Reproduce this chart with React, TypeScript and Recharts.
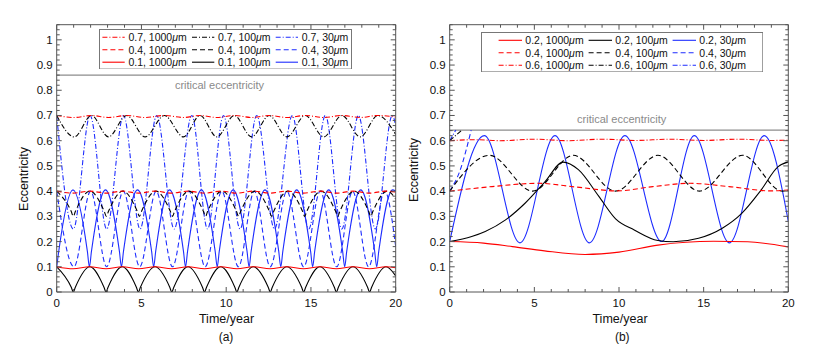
import React from 'react';
import { LineChart, Line, XAxis, YAxis, ReferenceLine } from 'recharts';

// ---- panel (a): [time in years, eccentricity] ----
const a07_1000 = [[0, 0.7], [1.04, 0.692], [2.05, 0.7], [3.05, 0.692], [4.13, 0.7], [5.22, 0.692], [6.35, 0.7], [7.48, 0.692], [8.46, 0.7], [9.45, 0.692], [10.48, 0.7], [11.5, 0.692], [12.54, 0.7], [13.58, 0.692], [14.67, 0.7], [15.75, 0.692], [16.83, 0.7], [17.91, 0.692], [18.95, 0.7], [20, 0.694]];
const a07_100 = [[0, 0.7], [1.04, 0.615], [2.05, 0.7], [3.05, 0.615], [4.13, 0.7], [5.22, 0.615], [6.35, 0.7], [7.48, 0.615], [8.46, 0.7], [9.45, 0.615], [10.48, 0.7], [11.5, 0.615], [12.54, 0.7], [13.58, 0.615], [14.67, 0.7], [15.75, 0.615], [16.83, 0.7], [17.91, 0.615], [18.95, 0.7], [20, 0.625]];
const a07_30 = [[0, 0.7], [0.98, 0.25], [1.97, 0.7], [2.95, 0.25], [3.94, 0.7], [4.92, 0.25], [5.9, 0.7], [6.93, 0.25], [7.97, 0.7], [8.9, 0.25], [9.84, 0.7], [10.82, 0.25], [11.8, 0.7], [12.85, 0.25], [13.9, 0.7], [14.87, 0.25], [15.85, 0.7], [16.82, 0.25], [17.8, 0.7], [18.8, 0.25], [19.8, 0.7], [20, 0.66]];
const a04_1000 = [[0, 0.4], [0.97, 0.392], [1.95, 0.4], [2.91, 0.392], [3.87, 0.4], [4.84, 0.392], [5.8, 0.4], [6.78, 0.392], [7.75, 0.4], [8.72, 0.392], [9.68, 0.4], [10.64, 0.392], [11.6, 0.4], [12.59, 0.392], [13.58, 0.4], [14.56, 0.392], [15.53, 0.4], [16.5, 0.392], [17.48, 0.4], [18.46, 0.392], [19.43, 0.4], [20, 0.396]];
const a04_100 = [[0, 0.4], [0.86, 0.319], [0.98, 0.3], [1.1, 0.319], [1.95, 0.4], [2.81, 0.319], [2.93, 0.3], [3.05, 0.319], [3.9, 0.4], [4.76, 0.319], [4.88, 0.3], [5.0, 0.319], [5.85, 0.4], [6.71, 0.319], [6.83, 0.3], [6.95, 0.319], [7.8, 0.4], [8.66, 0.319], [8.78, 0.3], [8.9, 0.319], [9.75, 0.4], [10.61, 0.319], [10.73, 0.3], [10.85, 0.319], [11.7, 0.4], [12.56, 0.319], [12.68, 0.3], [12.8, 0.319], [13.65, 0.4], [14.51, 0.319], [14.63, 0.3], [14.75, 0.319], [15.6, 0.4], [16.46, 0.319], [16.58, 0.3], [16.7, 0.319], [17.55, 0.4], [18.41, 0.319], [18.53, 0.3], [18.65, 0.319], [19.5, 0.4], [20, 0.369]];
const a04_30 = [[0, 0.4], [1.02, 0.1], [2.0, 0.4], [2.95, 0.1], [3.93, 0.4], [4.9, 0.1], [5.87, 0.4], [6.83, 0.1], [7.8, 0.4], [8.76, 0.1], [9.74, 0.4], [10.72, 0.1], [11.66, 0.4], [12.6, 0.1], [13.58, 0.4], [14.57, 0.1], [15.55, 0.4], [16.52, 0.1], [17.46, 0.4], [18.4, 0.1], [19.35, 0.4], [20, 0.18]];
const a01_1000 = [[0, 0.1], [0.97, 0.092], [1.95, 0.1], [2.91, 0.092], [3.87, 0.1], [4.84, 0.092], [5.8, 0.1], [6.78, 0.092], [7.75, 0.1], [8.72, 0.092], [9.68, 0.1], [10.64, 0.092], [11.6, 0.1], [12.59, 0.092], [13.58, 0.1], [14.56, 0.092], [15.53, 0.1], [16.5, 0.092], [17.48, 0.1], [18.46, 0.092], [19.43, 0.1], [20, 0.096]];
const a01_100 = [[0, 0.1], [0.86, 0.019], [0.98, 0], [1.1, 0.019], [1.95, 0.1], [2.79, 0.019], [2.91, 0], [3.03, 0.019], [3.87, 0.1], [4.7, 0.019], [4.82, 0], [4.94, 0.019], [5.8, 0.1], [6.67, 0.019], [6.79, 0], [6.91, 0.019], [7.75, 0.1], [8.6, 0.019], [8.72, 0], [8.84, 0.019], [9.68, 0.1], [10.51, 0.019], [10.63, 0], [10.75, 0.019], [11.6, 0.1], [12.48, 0.019], [12.6, 0], [12.72, 0.019], [13.58, 0.1], [14.45, 0.019], [14.57, 0], [14.69, 0.019], [15.53, 0.1], [16.38, 0.019], [16.5, 0], [16.62, 0.019], [17.48, 0.1], [18.34, 0.019], [18.46, 0], [18.58, 0.019], [19.43, 0.1], [20, 0.064]];
const a01_30 = [[0, 0.1], [0.12, 0.161], [0.96, 0.405], [1.81, 0.161], [1.93, 0.1], [2.05, 0.161], [2.88, 0.405], [3.7, 0.161], [3.82, 0.1], [3.94, 0.161], [4.77, 0.405], [5.6, 0.161], [5.72, 0.1], [5.84, 0.161], [6.66, 0.405], [7.48, 0.161], [7.6, 0.1], [7.72, 0.161], [8.54, 0.405], [9.35, 0.161], [9.47, 0.1], [9.59, 0.161], [10.41, 0.405], [11.23, 0.161], [11.35, 0.1], [11.47, 0.161], [12.29, 0.405], [13.1, 0.161], [13.22, 0.1], [13.34, 0.161], [14.16, 0.405], [14.98, 0.161], [15.1, 0.1], [15.22, 0.161], [16.05, 0.405], [16.87, 0.161], [16.99, 0.1], [17.11, 0.161], [17.94, 0.405], [18.76, 0.161], [18.88, 0.1], [19.0, 0.161], [19.82, 0.405], [20, 0.4]];

// ---- panel (b) ----
const b02_1000 = [[0, 0.2], [2, 0.194], [3.7, 0.18], [5.6, 0.163], [8, 0.149], [10, 0.158], [12.3, 0.186], [15.6, 0.201], [17.6, 0.199], [20, 0.179]];
const b02_100 = [[0, 0.2], [1.3, 0.22], [2.1, 0.24], [3.3, 0.286], [4.45, 0.352], [5.6, 0.435], [6.7, 0.515], [7.6, 0.485], [8.8, 0.38], [9.8, 0.29], [10.9, 0.246], [12.3, 0.204], [13.2, 0.199], [14.7, 0.213], [16.1, 0.253], [17.25, 0.312], [18.4, 0.405], [19.4, 0.497], [20, 0.516]];
const b02_30 = [[0, 0.2], [2.05, 0.62], [4.15, 0.195], [6.22, 0.62], [8.25, 0.195], [10.35, 0.62], [12.52, 0.2], [14.45, 0.62], [16.52, 0.195], [18.58, 0.62], [20, 0.28]];
const b04_1000 = [[0, 0.4], [2.5, 0.418], [5.2, 0.431], [7.5, 0.416], [9.9, 0.401], [12, 0.418], [14.2, 0.431], [16.5, 0.418], [19, 0.401], [20, 0.405]];
const b04_100 = [[0, 0.4], [2.35, 0.542], [4.9, 0.4], [7.3, 0.542], [9.8, 0.4], [12.3, 0.542], [14.75, 0.4], [17.3, 0.542], [19.65, 0.4], [20, 0.403]];
const b04_30 = [[0, 0.4], [0.6, 0.48], [1.27, 0.642]];
const b06_1000 = [[0, 0.6], [1.5, 0.604], [3, 0.6], [5, 0.606], [7, 0.6], [9, 0.606], [11, 0.601], [13, 0.606], [15, 0.601], [17, 0.606], [19, 0.601], [20, 0.602]];
const b06_100 = [[0, 0.6], [0.72, 0.642]];
const b06_30 = [[0, 0.6], [0.36, 0.642]];

const xTicks = [0, 1, 2, 3, 4, 5, 6, 7, 8, 9, 10, 11, 12, 13, 14, 15, 16, 17, 18, 19, 20];
const yTicks = Array.from({ length: 54 }, (_, i) => +(i * 0.02).toFixed(2));
const critA = 0.86;
const critB = 0.642;

const FONT = '"Liberation Sans", Arial, Helvetica, sans-serif';
const FRAME = '#555';
const RED = '#ff0000';
const BLACK = '#000000';
const BLUE = '#1e2dff';
const DASHED = '5 3';
const DASHDOT = '5 2 1 2';

type Series = { e0: string; size: string; pts: number[][]; color: string; dash?: string };

// legend rows, as laid out in each box
const legendA: Series[][] = [
  [
    { e0: '0.7', size: '1000', pts: a07_1000, color: RED, dash: DASHDOT },
    { e0: '0.7', size: '100', pts: a07_100, color: BLACK, dash: DASHDOT },
    { e0: '0.7', size: '30', pts: a07_30, color: BLUE, dash: DASHDOT },
  ],
  [
    { e0: '0.4', size: '1000', pts: a04_1000, color: RED, dash: DASHED },
    { e0: '0.4', size: '100', pts: a04_100, color: BLACK, dash: DASHED },
    { e0: '0.4', size: '30', pts: a04_30, color: BLUE, dash: DASHED },
  ],
  [
    { e0: '0.1', size: '1000', pts: a01_1000, color: RED },
    { e0: '0.1', size: '100', pts: a01_100, color: BLACK },
    { e0: '0.1', size: '30', pts: a01_30, color: BLUE },
  ],
];

const legendB: Series[][] = [
  [
    { e0: '0.2', size: '1000', pts: b02_1000, color: RED },
    { e0: '0.2', size: '100', pts: b02_100, color: BLACK },
    { e0: '0.2', size: '30', pts: b02_30, color: BLUE },
  ],
  [
    { e0: '0.4', size: '1000', pts: b04_1000, color: RED, dash: DASHED },
    { e0: '0.4', size: '100', pts: b04_100, color: BLACK, dash: DASHED },
    { e0: '0.4', size: '30', pts: b04_30, color: BLUE, dash: DASHED },
  ],
  [
    { e0: '0.6', size: '1000', pts: b06_1000, color: RED, dash: DASHDOT },
    { e0: '0.6', size: '100', pts: b06_100, color: BLACK, dash: DASHDOT },
    { e0: '0.6', size: '30', pts: b06_30, color: BLUE, dash: DASHDOT },
  ],
];

const isMajorY = (v: number) => Math.abs(v * 10 - Math.round(v * 10)) < 1e-6 && v <= 1;

function Tick(props: any) {
  const { x, y, payload, side } = props;
  const v = payload.value;
  if (side === 'bottom' || side === 'top') {
    const major = v % 5 === 0;
    const len = major ? 5 : 3;
    const y2 = side === 'bottom' ? y - len : y + len;
    return (
      <g>
        <line x1={x} x2={x} y1={y} y2={y2} stroke={FRAME} />
        {side === 'bottom' && major && (
          <text x={x} y={y + 15} textAnchor="middle" fontSize={11.5} fontFamily={FONT} fill="#111">
            {v}
          </text>
        )}
      </g>
    );
  }
  const major = isMajorY(v);
  const len = major ? 5 : 3;
  const x2 = side === 'left' ? x + len : x - len;
  return (
    <g>
      <line x1={x} x2={x2} y1={y} y2={y} stroke={FRAME} />
      {side === 'left' && major && (
        <text x={x - 4} y={y + 4} textAnchor="end" fontSize={11.5} fontFamily={FONT} fill="#111">
          {String(+v.toFixed(1))}
        </text>
      )}
    </g>
  );
}

function CritLabel(props: any) {
  const { viewBox, offX, offY } = props;
  return (
    <text
      x={viewBox.x + viewBox.width / 2 + offX}
      y={viewBox.y + offY}
      textAnchor="middle"
      fontSize={11}
      fontFamily={FONT}
      fill="#8a8a8a"
    >
      critical eccentricity
    </text>
  );
}

// axes get 1px of room (a 0px axis is not drawn), margins make up for it
function Panel({ rows, crit, offX, offY, margin }: any) {
  const all: Series[] = rows.flat();
  // blue underneath, then black, red on top
  const order = [BLUE, BLACK, RED].flatMap((c) => all.filter((s) => s.color === c));
  return (
    <LineChart width={415} height={348} margin={margin}>
      <XAxis xAxisId="bot" type="number" dataKey="t" domain={[0, 20]} ticks={xTicks} interval={0}
        height={1} tickSize={0} tickMargin={0} tickLine={false} axisLine={{ stroke: FRAME }}
        tick={<Tick side="bottom" />} allowDataOverflow />
      <XAxis xAxisId="top" orientation="top" type="number" dataKey="t" domain={[0, 20]} ticks={xTicks} interval={0}
        height={1} tickSize={0} tickMargin={0} tickLine={false} axisLine={{ stroke: FRAME }}
        tick={<Tick side="top" />} allowDataOverflow />
      <YAxis yAxisId="left" type="number" domain={[0, 1.06]} ticks={yTicks} interval={0}
        width={1} tickSize={0} tickMargin={0} tickLine={false} axisLine={{ stroke: FRAME }}
        tick={<Tick side="left" />} allowDataOverflow />
      <YAxis yAxisId="right" orientation="right" type="number" domain={[0, 1.06]} ticks={yTicks} interval={0}
        width={1} tickSize={0} tickMargin={0} tickLine={false} axisLine={{ stroke: FRAME }}
        tick={<Tick side="right" />} allowDataOverflow />
      <ReferenceLine xAxisId="bot" yAxisId="left" y={crit} stroke="#8c8c8c" strokeWidth={1.2}
        label={<CritLabel offX={offX} offY={offY} />} />
      {order.map((s) => (
        <Line
          key={s.e0 + s.size}
          xAxisId="bot"
          yAxisId="left"
          data={s.pts.map(([t, e]) => ({ t, e }))}
          dataKey="e"
          type="monotone"
          dot={false}
          stroke={s.color}
          strokeWidth={1.1}
          strokeDasharray={s.dash}
          isAnimationActive={false}
        />
      ))}
    </LineChart>
  );
}

function LegendBox({ rows, left, top, width, height, rowY, colX, lineLen, textGap }: any) {
  return (
    <svg style={{ position: 'absolute', left, top }} width={width + 1} height={height + 1}>
      <rect x={0.5} y={0.5} width={width} height={height} fill="#fff" stroke="#777" />
      {rows.map((row: Series[], r: number) =>
        row.map((s: Series, c: number) => (
          <g key={r + '-' + c}>
            <line x1={colX[c]} x2={colX[c] + lineLen} y1={rowY[r]} y2={rowY[r]} stroke={s.color}
              strokeWidth={1.1} strokeDasharray={s.dash} />
            <text x={colX[c] + textGap} y={rowY[r] + 3.8} fontSize={10.5} fontFamily={FONT} fill="#111">
              {s.e0}, {s.size}
              <tspan fontStyle="italic">μ</tspan>m
            </text>
          </g>
        ))
      )}
    </svg>
  );
}

export default function App() {
  return (
    <div style={{ position: 'absolute', left: 0, top: 0, width: 830, height: 348, background: '#fff' }}>
      <div style={{ position: 'absolute', left: 0, top: 0 }}>
        <Panel rows={legendA} crit={critA} offX={-6.7} offY={13.7}
          margin={{ top: 23.7, right: 18.3, bottom: 55, left: 55.7 }} />
      </div>
      <div style={{ position: 'absolute', left: 415, top: 0 }}>
        <Panel rows={legendB} crit={critB} offX={2.7} offY={-7.3}
          margin={{ top: 23.7, right: 40.7, bottom: 55, left: 33.7 }} />
      </div>
      <LegendBox rows={legendA} left={99} top={28.5} width={252} height={39.6}
        rowY={[8.2, 20.8, 33.2]} colX={[3.4, 93, 176.7]} lineLen={22.3} textGap={26} />
      <LegendBox rows={legendB} left={480.5} top={32} width={281.3} height={39.4}
        rowY={[8.3, 20.7, 33.3]} colX={[17.6, 107.6, 191.6]} lineLen={23.4} textGap={26.7} />
      <svg style={{ position: 'absolute', left: 0, top: 0, pointerEvents: 'none' }} width={830} height={348}>
        <g fontFamily={FONT} fill="#111" fontSize={12.5} textAnchor="middle">
          <text transform="translate(28,179) rotate(-90)">Eccentricity</text>
          <text transform="translate(418,170) rotate(-90)">Eccentricity</text>
          <text x={226.5} y={323}>Time/year</text>
          <text x={620} y={323}>Time/year</text>
          <text x={226} y={341} fontSize={12}>(a)</text>
          <text x={622.3} y={341} fontSize={12}>(b)</text>
        </g>
      </svg>
    </div>
  );
}
